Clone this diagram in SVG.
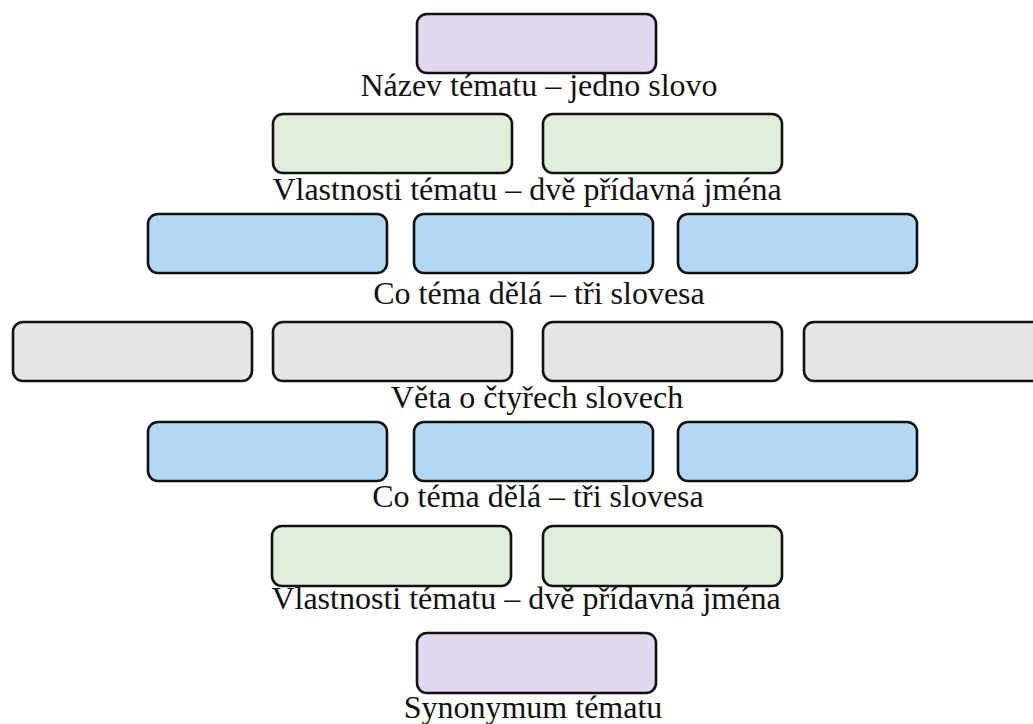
<svg xmlns="http://www.w3.org/2000/svg" width="1033" height="724" viewBox="0 0 1033 724">
<style>
.b{stroke:#111;stroke-width:2.6}
.p{fill:#e1d7f0}
.g{fill:#e1eeda}
.u{fill:#b2d8f6}
.k{fill:#e5e5e5}
.t{font-family:"Liberation Serif","Times New Roman",serif;font-size:32px;fill:#111;text-anchor:middle}
</style>
<rect width="1033" height="724" fill="#fff"/>
<g id="connectors"></g>
<g id="row1">
<rect id="n1" class="b p" x="417" y="14" width="239" height="59" rx="10"/>
<text class="t" x="539" y="96">Název tématu – jedno slovo</text>
</g>
<g id="row2">
<rect id="n2a" class="b g" x="273" y="114" width="239" height="59" rx="10"/>
<rect id="n2b" class="b g" x="543" y="114" width="239" height="59" rx="10"/>
<text class="t" x="527" y="200">Vlastnosti tématu – dvě přídavná jména</text>
</g>
<g id="row3">
<rect id="n3a" class="b u" x="148" y="214" width="239" height="59" rx="10"/>
<rect id="n3b" class="b u" x="414" y="214" width="239" height="59" rx="10"/>
<rect id="n3c" class="b u" x="678" y="214" width="239" height="59" rx="10"/>
<text class="t" x="539" y="304">Co téma dělá – tři slovesa</text>
</g>
<g id="row4">
<rect id="n4a" class="b k" x="13" y="322" width="239" height="59" rx="10"/>
<rect id="n4b" class="b k" x="273" y="322" width="239" height="59" rx="10"/>
<rect id="n4c" class="b k" x="543" y="322" width="239" height="59" rx="10"/>
<rect id="n4d" class="b k" x="804" y="322" width="239" height="59" rx="10"/>
<text class="t" x="537" y="408">Věta o čtyřech slovech</text>
</g>
<g id="row5">
<rect id="n5a" class="b u" x="148" y="422" width="239" height="59" rx="10"/>
<rect id="n5b" class="b u" x="414" y="422" width="239" height="59" rx="10"/>
<rect id="n5c" class="b u" x="678" y="422" width="239" height="59" rx="10"/>
<text class="t" x="538" y="507">Co téma dělá – tři slovesa</text>
</g>
<g id="row6">
<rect id="n6a" class="b g" x="272" y="526" width="239" height="60" rx="10"/>
<rect id="n6b" class="b g" x="543" y="526" width="239" height="60" rx="10"/>
<text class="t" x="526" y="609">Vlastnosti tématu – dvě přídavná jména</text>
</g>
<g id="row7">
<rect id="n7" class="b p" x="417" y="633" width="239" height="60" rx="10"/>
<text class="t" x="533" y="718">Synonymum tématu</text>
</g>
</svg>
